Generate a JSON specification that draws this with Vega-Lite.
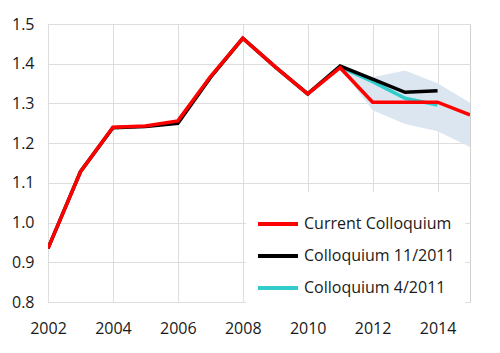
{
  "$schema": "https://vega.github.io/schema/vega-lite/v6.json",
  "width": 422,
  "height": 278,
  "autosize": {"type": "none"},
  "padding": {"left": 48, "top": 24, "right": 30, "bottom": 51},
  "background": "white",
  "config": {
    "view": {"stroke": "#d0d0d0", "strokeWidth": 1},
    "font": "Open Sans",
    "axis": {
      "labelFont": "Open Sans",
      "labelFontSize": 16,
      "labelColor": "#1a1a1a",
      "labelOverlap": false,
      "labelFlush": false,
      "labelBound": false,
      "domain": false,
      "ticks": false,
      "gridColor": "#dedede",
      "gridWidth": 1,
      "title": null
    }
  },
  "datasets": {
    "band": [
      {"year": 2011, "lo": 1.39, "hi": 1.39},
      {"year": 2012, "lo": 1.283, "hi": 1.366},
      {"year": 2013, "lo": 1.248, "hi": 1.383},
      {"year": 2014, "lo": 1.23, "hi": 1.351},
      {"year": 2015, "lo": 1.19, "hi": 1.302}
    ],
    "lines": [
      {"year": 2011, "series": "Colloquium 4/2011", "value": 1.392},
      {"year": 2012, "series": "Colloquium 4/2011", "value": 1.355},
      {"year": 2013, "series": "Colloquium 4/2011", "value": 1.313},
      {"year": 2014, "series": "Colloquium 4/2011", "value": 1.296},
      {"year": 2002, "series": "Colloquium 11/2011", "value": 0.935},
      {"year": 2003, "series": "Colloquium 11/2011", "value": 1.128},
      {"year": 2004, "series": "Colloquium 11/2011", "value": 1.239},
      {"year": 2005, "series": "Colloquium 11/2011", "value": 1.242},
      {"year": 2006, "series": "Colloquium 11/2011", "value": 1.25},
      {"year": 2007, "series": "Colloquium 11/2011", "value": 1.365},
      {"year": 2008, "series": "Colloquium 11/2011", "value": 1.464},
      {"year": 2009, "series": "Colloquium 11/2011", "value": 1.392},
      {"year": 2010, "series": "Colloquium 11/2011", "value": 1.324},
      {"year": 2011, "series": "Colloquium 11/2011", "value": 1.394},
      {"year": 2012, "series": "Colloquium 11/2011", "value": 1.361},
      {"year": 2013, "series": "Colloquium 11/2011", "value": 1.328},
      {"year": 2014, "series": "Colloquium 11/2011", "value": 1.332},
      {"year": 2002, "series": "Current Colloquium", "value": 0.935},
      {"year": 2003, "series": "Current Colloquium", "value": 1.128},
      {"year": 2004, "series": "Current Colloquium", "value": 1.24},
      {"year": 2005, "series": "Current Colloquium", "value": 1.243},
      {"year": 2006, "series": "Current Colloquium", "value": 1.256},
      {"year": 2007, "series": "Current Colloquium", "value": 1.367},
      {"year": 2008, "series": "Current Colloquium", "value": 1.464},
      {"year": 2009, "series": "Current Colloquium", "value": 1.392},
      {"year": 2010, "series": "Current Colloquium", "value": 1.324},
      {"year": 2011, "series": "Current Colloquium", "value": 1.39},
      {"year": 2012, "series": "Current Colloquium", "value": 1.303},
      {"year": 2013, "series": "Current Colloquium", "value": 1.303},
      {"year": 2014, "series": "Current Colloquium", "value": 1.303},
      {"year": 2015, "series": "Current Colloquium", "value": 1.271}
    ]
  },
  "layer": [
    {
      "data": {"name": "band"},
      "mark": {"type": "area", "color": "#dce6f1", "opacity": 1},
      "encoding": {
        "x": {"field": "year", "type": "quantitative", "scale": {"domain": [2002, 2015], "nice": false},
              "axis": {"values": [2002, 2004, 2006, 2008, 2010, 2012, 2014], "format": "d", "labelPadding": 18, "labelBaseline": "top", "labelOverlap": false}},
        "y": {"field": "lo", "type": "quantitative", "scale": {"domain": [0.8, 1.5], "nice": false, "zero": false},
              "axis": {"values": [0.8, 0.9, 1.0, 1.1, 1.2, 1.3, 1.4, 1.5], "tickCount": 8, "format": ".1f", "labelPadding": 14, "labelOverlap": false}},
        "y2": {"field": "hi"}
      }
    },
    {
      "data": {"name": "lines"},
      "mark": {"type": "line", "strokeWidth": 3.5, "strokeJoin": "miter", "clip": true},
      "encoding": {
        "x": {"field": "year", "type": "quantitative"},
        "y": {"field": "value", "type": "quantitative"},
        "color": {
          "field": "series",
          "type": "nominal",
          "scale": {
            "domain": ["Current Colloquium", "Colloquium 11/2011", "Colloquium 4/2011"],
            "range": ["#ff0000", "#000000", "#33cccc"]
          },
          "legend": {
            "title": null,
            "orient": "none",
            "legendX": 198,
            "legendY": 168,
            "fillColor": "white",
            "padding": 10,
            "symbolType": "stroke",
            "symbolSize": 1600,
            "symbolStrokeWidth": 4,
            "labelFont": "Open Sans",
            "labelFontSize": 16,
            "labelColor": "#1a1a1a",
            "labelOffset": 4,
            "rowPadding": 2
          }
        }
      }
    }
  ]
}
